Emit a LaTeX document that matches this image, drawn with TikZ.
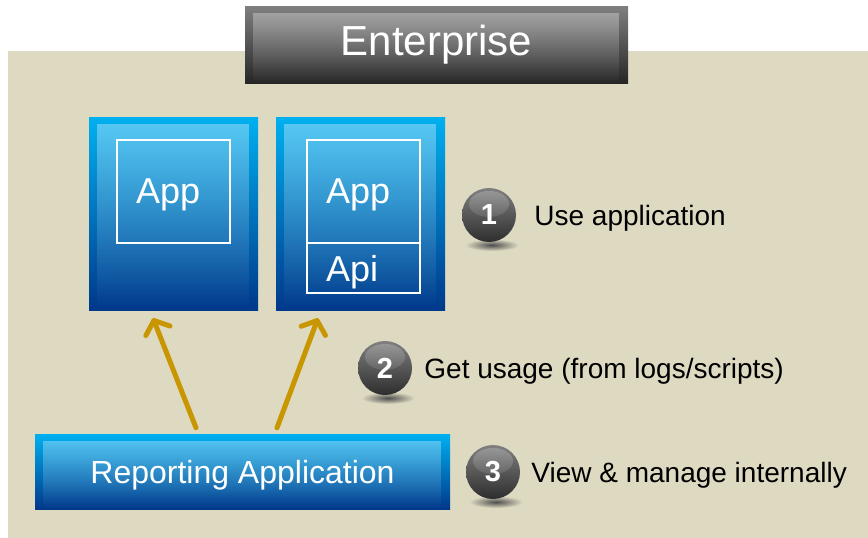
\documentclass[tikz,border=0pt]{standalone}
\usepackage{fontspec}
\setmainfont{Liberation Sans}
\usetikzlibrary{positioning,arrows.meta,fadings,shadings}

\definecolor{bgbeige}{RGB}{222,218,194}
\definecolor{boxtop}{RGB}{0,176,240}
\definecolor{boxbottom}{RGB}{0,56,138}
\definecolor{arrowgold}{RGB}{200,150,0}

\tikzfading[name=glowfade, top color=transparent!0, middle color=transparent!60, bottom color=transparent!100]

\tikzset{
  glow/.style={path picture={\fill[white, fill opacity=#1, path fading=glowfade]
      ([shift={(8pt,-7pt)}]path picture bounding box.north west) rectangle
      ([shift={(-9pt,0pt)}]path picture bounding box.south east);}},
  bluebox/.style={rectangle, inner sep=0pt, top color=boxtop, bottom color=boxbottom, glow=0.35},
  darkbox/.style={rectangle, inner sep=0pt, top color=black!50, bottom color=black!85, glow=0.35,
    text=white, font=\fontsize{42}{46}\selectfont},
  appframe/.style={rectangle, draw=white, line width=2.5pt, inner sep=0pt, text=white,
    text width=75pt, text depth=0pt, align=left, font=\fontsize{36}{40}\selectfont},
  ball/.style={circle, minimum size=54pt, inner sep=0pt, top color=black!50, bottom color=black!82,
    path picture={\fill[white, fill opacity=0.22, path fading=glowfade]
      ([yshift=-16pt]path picture bounding box.north) ellipse (20pt and 13pt);},
    text=white, font=\fontsize{29}{29}\selectfont\bfseries},
  steplabel/.style={inner sep=0pt, anchor=west, text depth=0pt, font=\fontsize{28}{32}\selectfont},
  uparrow/.style={-{Straight Barb[length=11pt,width=26pt,round]}, line width=5pt, arrowgold, line cap=round}
}

\begin{document}
\begin{tikzpicture}[x=1pt, y=-1pt]
    \useasboundingbox (0,0) rectangle (868,538);
    \fill[bgbeige] (8,51) rectangle (868,538);

    \node[darkbox, minimum width=383pt, minimum height=77pt] (ent) at (436.5,44.5) {Enterprise};

    % applications
    \node[bluebox, minimum width=169pt, minimum height=193pt] (box1) at (173.5,213.5) {};
    \node[bluebox, minimum width=169pt, minimum height=193pt] (box2) at (360.5,213.5) {};
    \node[appframe, minimum width=113pt, minimum height=103pt] (app1) at (173.5,191.5) {App};
    \node[appframe, minimum width=113pt, minimum height=103pt] (app2) at (363.5,191.5) {App};
    \node[appframe, minimum width=113pt, minimum height=50pt, below=-2.5pt of app2] (api) {Api};

    \node[bluebox, minimum width=415pt, minimum height=75pt, text=white, text depth=0pt,
      font=\fontsize{32}{36}\selectfont] (rep) at (242.5,471.5) {Reporting Application};

    \draw[uparrow] ([xshift=-46.5pt, yshift=6pt]rep.north) -- ([xshift=-20.5pt, yshift=-8pt]box1.south);
    \draw[uparrow] ([xshift=34.5pt, yshift=6pt]rep.north) -- ([xshift=-42.5pt, yshift=-8pt]box2.south);

    % numbered steps
    \foreach \n/\x/\y/\gap/\txt in {1/489/215/18/Use application,
        2/385/368/12/{Get usage (from logs/scripts)},
        3/493/472/11/View \& manage internally} {
      \shade[inner color=black!70, outer color=bgbeige] (\x+3,\y+30) ellipse (27 and 6);
      \node[ball] (ball\n) at (\x,\y) {\n};
      \node[steplabel, right=\gap pt of ball\n] (step\n) {\txt};
    }
\end{tikzpicture}
\end{document}
